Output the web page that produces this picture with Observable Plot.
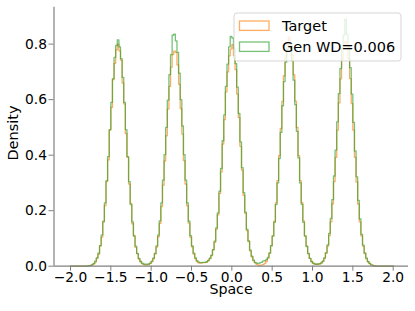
<!DOCTYPE html>
<html><head><meta charset="utf-8">
<script src="https://cdn.jsdelivr.net/npm/d3@7"></script>
<script src="https://cdn.jsdelivr.net/npm/@observablehq/plot@0.6"></script>
<style>body{margin:0;background:#fff}</style>
</head><body><div id="chart"></div>
<script>
// histogram bins: 200 bins of width 0.02 starting at -2.0
const binStart = -2.0;
const binWidth = 0.02;
const seriesNames = ["Target", "Gen WD=0.006"];
const target = [
0,0,0,0,0,0,0,0,0,0,
0,.001,.002,.004,.008,.015,.028,.043,.073,.105,
.162,.218,.305,.383,.490,.572,.672,.731,.779,.800,
.776,.742,.660,.585,.478,.392,.296,.226,.153,.111,
.068,.046,.026,.017,.009,.006,.004,.004,.006,.010,
.016,.027,.044,.069,.106,.154,.215,.292,.379,.470,
.566,.648,.717,.762,.775,.770,.725,.655,.568,.476,
.380,.296,.218,.155,.104,.070,.044,.027,.017,.012,
.011,.012,.013,.013,.015,.020,.027,.038,.058,.086,
.133,.185,.262,.340,.440,.528,.628,.700,.758,.782,
.798,.760,.708,.620,.535,.432,.346,.255,.190,.128,
.089,.055,.034,.020,.012,.007,.004,.003,.004,.006,
.010,.017,.028,.046,.073,.110,.162,.228,.308,.398,
.496,.594,.686,.757,.800,.825,.803,.760,.690,.595,
.500,.398,.308,.229,.163,.110,.073,.046,.028,.017,
.011,.008,.007,.007,.008,.011,.017,.028,.046,.072,
.110,.160,.225,.305,.392,.490,.588,.675,.745,.790,
.810,.792,.748,.676,.586,.490,.392,.303,.224,.160,
.109,.072,.045,.027,.016,.009,.005,.003,.001,0,
0,0,0,0,0,0,0,0,0,0
];
const gen = [
0,0,0,0,0,0,0,0,0,0,
.001,.002,.003,.006,.010,.018,.030,.047,.074,.112,
.160,.228,.308,.395,.492,.590,.676,.752,.795,.815,
.790,.748,.680,.590,.492,.395,.305,.222,.160,.108,
.072,.045,.028,.017,.011,.008,.007,.007,.008,.011,
.018,.029,.046,.073,.112,.163,.228,.310,.402,.500,
.598,.690,.762,.832,.836,.812,.770,.695,.600,.505,
.402,.310,.228,.162,.110,.073,.047,.030,.020,.015,
.013,.013,.014,.014,.016,.021,.029,.040,.060,.090,
.138,.192,.270,.352,.452,.545,.648,.728,.790,.828,
.822,.785,.730,.645,.550,.448,.355,.265,.195,.133,
.091,.058,.036,.022,.014,.011,.010,.012,.014,.018,
.020,.024,.032,.048,.074,.108,.158,.222,.300,.388,
.482,.578,.665,.735,.782,.800,.785,.740,.670,.582,
.486,.390,.300,.223,.158,.108,.071,.045,.028,.017,
.011,.008,.007,.008,.009,.012,.018,.030,.049,.077,
.118,.172,.240,.325,.418,.520,.622,.712,.785,.832,
.890,.835,.790,.715,.620,.518,.415,.322,.237,.170,
.115,.076,.048,.029,.017,.010,.005,.003,.001,0,
0,0,0,0,0,0,0,0,0,0
];
const xTicks = [-2, -1.5, -1, -0.5, 0, 0.5, 1, 1.5, 2];
const yTicks = [0, 0.2, 0.4, 0.6, 0.8];
const colors = ["#ff7f0e", "#2ca02c"];

function steps(vals, name) {
  const n = vals.length;
  const pts = [{x: binStart, y: 0, s: name}];
  vals.forEach((v, i) => pts.push({x: binStart + i * binWidth, y: v, s: name}));
  pts.push({x: binStart + n * binWidth, y: vals[n - 1], s: name});
  pts.push({x: binStart + n * binWidth, y: 0, s: name});
  return pts;
}
const fmt = d => d.toFixed(1).replace("-", "\u2212");
const xDomain = [-2.2045, 2.19];
const yDomain = [0, 0.933];
const grey = "#808080";

const plot = Plot.plot({
  width: 415, height: 311,
  marginLeft: 53.5, marginRight: 7, marginTop: 6.7, marginBottom: 45.3,
  style: {fontFamily: "DejaVu Sans", fontSize: "13.8px", background: "#fff", color: "#000"},
  x: {domain: xDomain},
  y: {domain: yDomain},
  marks: [
    Plot.lineY(steps(target, seriesNames[0]), {x: "x", y: "y", curve: "step-after", stroke: colors[0], strokeOpacity: 0.65, strokeWidth: 1.3}),
    Plot.lineY(steps(gen, seriesNames[1]), {x: "x", y: "y", curve: "step-after", stroke: colors[1], strokeOpacity: 0.65, strokeWidth: 1.3}),
    Plot.axisX({ticks: xTicks, tickFormat: fmt, tickSize: 5, tickPadding: 0.5, stroke: grey, fill: "#000", label: null}),
    Plot.axisY({ticks: yTicks, tickFormat: fmt, tickSize: 5, tickPadding: 2, stroke: grey, fill: "#000", label: null}),
    Plot.ruleX([xDomain[0]], {stroke: grey, strokeWidth: 1.2}),
    Plot.ruleY([0], {stroke: grey, strokeWidth: 1.2})
  ]
});

const svg = d3.select(plot);
svg.append("text").attr("x", 231).attr("y", 289.5).attr("dy", "0.35em")
  .attr("text-anchor", "middle").attr("fill", "#000").attr("font-size", "14.2px").text("Space");
svg.append("text").attr("transform", "translate(12.5,133) rotate(-90)").attr("dy", "0.35em")
  .attr("text-anchor", "middle").attr("fill", "#000").attr("font-size", "14.5px").text("Density");

const lg = svg.append("g");
lg.append("rect").attr("x", 234).attr("y", 13).attr("width", 167).attr("height", 48).attr("rx", 3)
  .attr("fill", "#fff").attr("fill-opacity", 0.8).attr("stroke", "#ccc").attr("stroke-opacity", 0.8);
seriesNames.forEach((name, i) => {
  const cy = 25.7 + i * 21;
  lg.append("rect").attr("x", 239.5).attr("y", cy - 4.7).attr("width", 29.5).attr("height", 9.4)
    .attr("fill", "none").attr("stroke", colors[i]).attr("stroke-opacity", 0.65).attr("stroke-width", 1.3);
  lg.append("text").attr("x", 282).attr("y", cy).attr("dy", "0.35em").attr("text-anchor", "start")
    .attr("fill", "#000").attr("font-size", "14.5px").text(name);
});

document.getElementById("chart").appendChild(plot);
</script>
</body></html>
